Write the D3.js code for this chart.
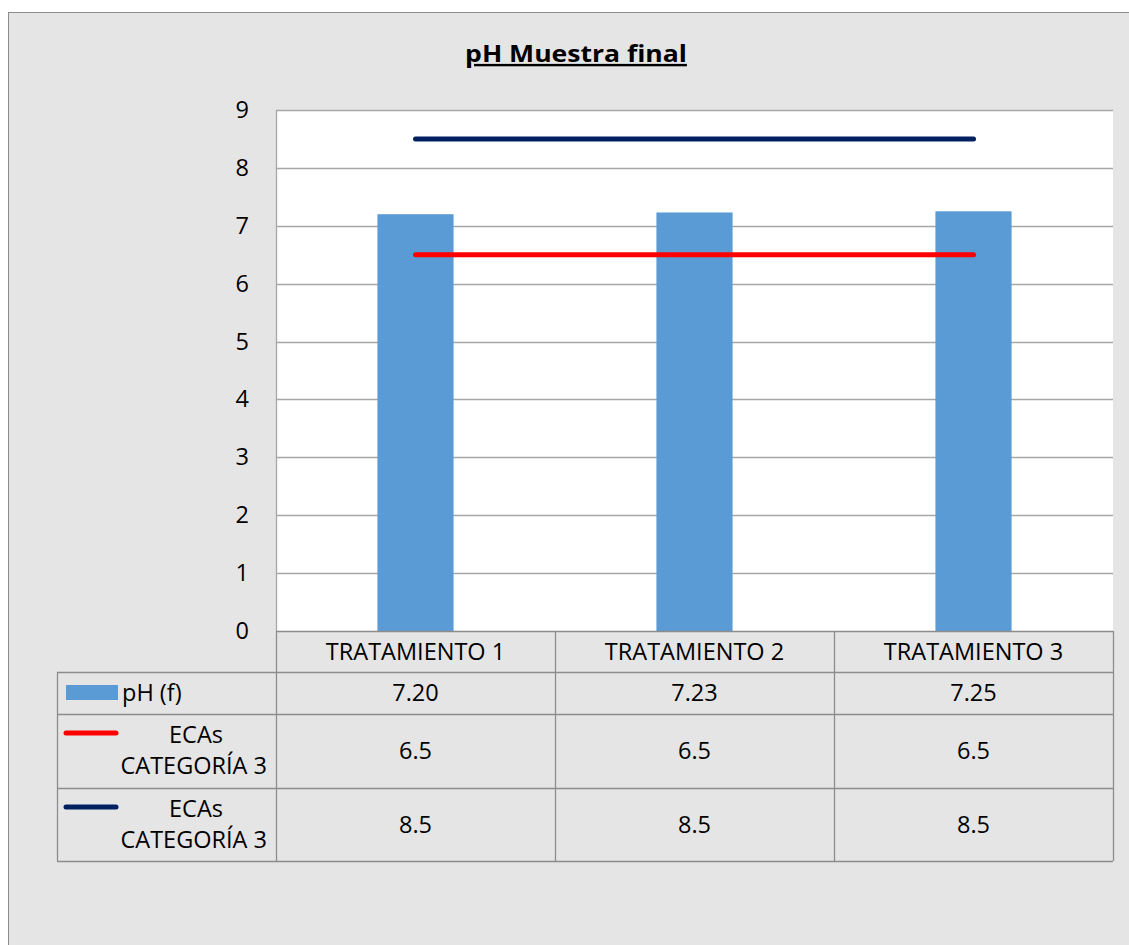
<!DOCTYPE html>
<html>
<head>
<meta charset="utf-8">
<script src="https://cdn.jsdelivr.net/npm/d3@7"></script>
<style>
  html, body { margin: 0; padding: 0; background: #fff; }
  svg { display: block; font-family: "Open Sans", "Noto Sans", sans-serif; }
</style>
</head>
<body>
<svg id="chart" width="1129" height="945"></svg>
<script>
// Categories and series
const categories = ["TRATAMIENTO 1", "TRATAMIENTO 2", "TRATAMIENTO 3"];
const phValues = [7.20, 7.23, 7.25];
const ecaLow = [6.5, 6.5, 6.5];
const ecaHigh = [8.5, 8.5, 8.5];
const yTicks = [0, 1, 2, 3, 4, 5, 6, 7, 8, 9];
const seriesNames = ["pH (f)", "ECAs\nCATEGORÍA 3", "ECAs\nCATEGORÍA 3"];
const phLabels = ["7.20", "7.23", "7.25"];
const lowLabels = ["6.5", "6.5", "6.5"];
const highLabels = ["8.5", "8.5", "8.5"];

const colors = { bar: "#5b9bd5", low: "#ff0000", high: "#002060", grid: "#a6a6a6", border: "#8c8c8c" };
const FS = 23.5;

const svg = d3.select("#chart");

// chart frame
svg.append("rect").attr("x", 0).attr("y", 0).attr("width", 1129).attr("height", 945).attr("fill", "#ffffff");
svg.append("rect").attr("x", 8.5).attr("y", 12.5).attr("width", 1130).attr("height", 940)
  .attr("fill", "#e5e5e5").attr("stroke", "#8c8c8c").attr("stroke-width", 1);

const plot = { left: 276, right: 1113, top: 110, bottom: 631 };

const x = d3.scaleBand().domain(categories).range([plot.left, plot.right]).padding(0);
const y = d3.scaleLinear().domain([0, 9]).range([plot.bottom, plot.top]);

// plot area
svg.append("rect").attr("x", plot.left).attr("y", plot.top)
  .attr("width", plot.right - plot.left).attr("height", plot.bottom - plot.top).attr("fill", "#ffffff");

// gridlines
svg.append("g").selectAll("line").data(yTicks.filter(d => d > 0)).join("line")
  .attr("x1", plot.left).attr("x2", plot.right)
  .attr("y1", d => Math.round(y(d)) + 0.5).attr("y2", d => Math.round(y(d)) + 0.5)
  .attr("stroke", colors.grid).attr("stroke-width", 1.3);

// left axis line
svg.append("line").attr("x1", plot.left + 0.5).attr("x2", plot.left + 0.5)
  .attr("y1", plot.top).attr("y2", plot.bottom).attr("stroke", colors.grid).attr("stroke-width", 1.3);

// y tick labels
const yAxis = d3.axisLeft(y).tickValues(yTicks).tickSize(0).tickPadding(27).tickFormat(d3.format("d"));
const gy = svg.append("g").attr("transform", `translate(${plot.left},0)`).call(yAxis);
gy.select(".domain").remove();
gy.selectAll("text").attr("font-size", FS).attr("fill", "#000").attr("font-family", "'Open Sans', sans-serif");

// bars
const barW = x.bandwidth() * 0.273;
svg.append("g").selectAll("rect").data(phValues).join("rect")
  .attr("x", (d, i) => x(categories[i]) + x.bandwidth() / 2 - barW / 2)
  .attr("y", d => y(d))
  .attr("width", barW)
  .attr("height", d => y(0) - y(d))
  .attr("fill", colors.bar);

// reference lines
const line = d3.line().x((d, i) => x(categories[i]) + x.bandwidth() / 2).y(d => y(d));
[[ecaLow, colors.low], [ecaHigh, colors.high]].forEach(([vals, c]) => {
  svg.append("path").datum(vals).attr("d", line).attr("fill", "none")
    .attr("stroke", c).attr("stroke-width", 5).attr("stroke-linecap", "round");
});

// title, widened horizontally to a 222px run
const titleG = svg.append("g");
const title = titleG.append("text").attr("x", 0).attr("y", 0).attr("text-anchor", "middle")
  .attr("font-size", 24).attr("font-weight", "bold").attr("text-decoration", "underline")
  .attr("fill", "#000").text("pH Muestra final");
const tw = title.node().getComputedTextLength() || 222;
titleG.attr("transform", `translate(576,62) scale(${222 / tw},1)`);

// data table
const rows = [
  { top: 672, bottom: 714, labels: phLabels },
  { top: 714, bottom: 788, labels: lowLabels },
  { top: 788, bottom: 861, labels: highLabels }
];
const tableLeft = 57;
const tg = svg.append("g");
const stroke = colors.border;

// header row borders
tg.append("line").attr("x1", plot.left).attr("x2", plot.right).attr("y1", plot.bottom + 0.5).attr("y2", plot.bottom + 0.5).attr("stroke", stroke).attr("stroke-width", 1.3);
// horizontal lines for data rows
[672, 714, 788, 861].forEach(yy => {
  tg.append("line").attr("x1", tableLeft).attr("x2", plot.right).attr("y1", yy + 0.5).attr("y2", yy + 0.5).attr("stroke", stroke).attr("stroke-width", 1.3);
});
// vertical lines
tg.append("line").attr("x1", tableLeft + 0.5).attr("x2", tableLeft + 0.5).attr("y1", 672).attr("y2", 861).attr("stroke", stroke).attr("stroke-width", 1.3);
categories.forEach((c, i) => {
  const xx = x(c);
  tg.append("line").attr("x1", xx + 0.5).attr("x2", xx + 0.5).attr("y1", plot.bottom).attr("y2", 861).attr("stroke", stroke).attr("stroke-width", 1.3);
});
tg.append("line").attr("x1", plot.right + 0.5).attr("x2", plot.right + 0.5).attr("y1", plot.bottom).attr("y2", 861).attr("stroke", stroke).attr("stroke-width", 1.3);

// category headers
tg.selectAll("text.cat").data(categories).join("text").attr("class", "cat")
  .attr("x", d => x(d) + x.bandwidth() / 2).attr("y", 652).attr("dy", "0.35em")
  .attr("text-anchor", "middle").attr("font-size", FS).attr("fill", "#000").text(d => d);

// values
rows.forEach(r => {
  tg.append("g").selectAll("text").data(r.labels).join("text")
    .attr("x", (d, i) => x(categories[i]) + x.bandwidth() / 2)
    .attr("y", (r.top + r.bottom) / 2).attr("dy", "0.35em")
    .attr("text-anchor", "middle").attr("font-size", FS).attr("fill", "#000").text(d => d);
});

// legend keys in table
tg.append("rect").attr("x", 66).attr("y", 685).attr("width", 52).attr("height", 15).attr("fill", colors.bar);
tg.append("text").attr("x", 122).attr("y", 693).attr("dy", "0.35em").attr("font-size", FS).attr("fill", "#000").text(seriesNames[0]);

[[rows[1], colors.low, seriesNames[1]], [rows[2], colors.high, seriesNames[2]]].forEach(([r, c, name]) => {
  const ly = r.top + 19;
  tg.append("line").attr("x1", 66).attr("x2", 116).attr("y1", ly).attr("y2", ly)
    .attr("stroke", c).attr("stroke-width", 5).attr("stroke-linecap", "round");
  const parts = name.split("\n");
  tg.append("text").attr("x", 196).attr("y", r.top + 21).attr("dy", "0.35em").attr("text-anchor", "middle")
    .attr("font-size", FS).attr("fill", "#000").text(parts[0]);
  tg.append("text").attr("x", 267).attr("y", r.top + 52).attr("dy", "0.35em").attr("text-anchor", "end")
    .attr("font-size", FS).attr("fill", "#000").text(parts[1]);
});
</script>
</body>
</html>
